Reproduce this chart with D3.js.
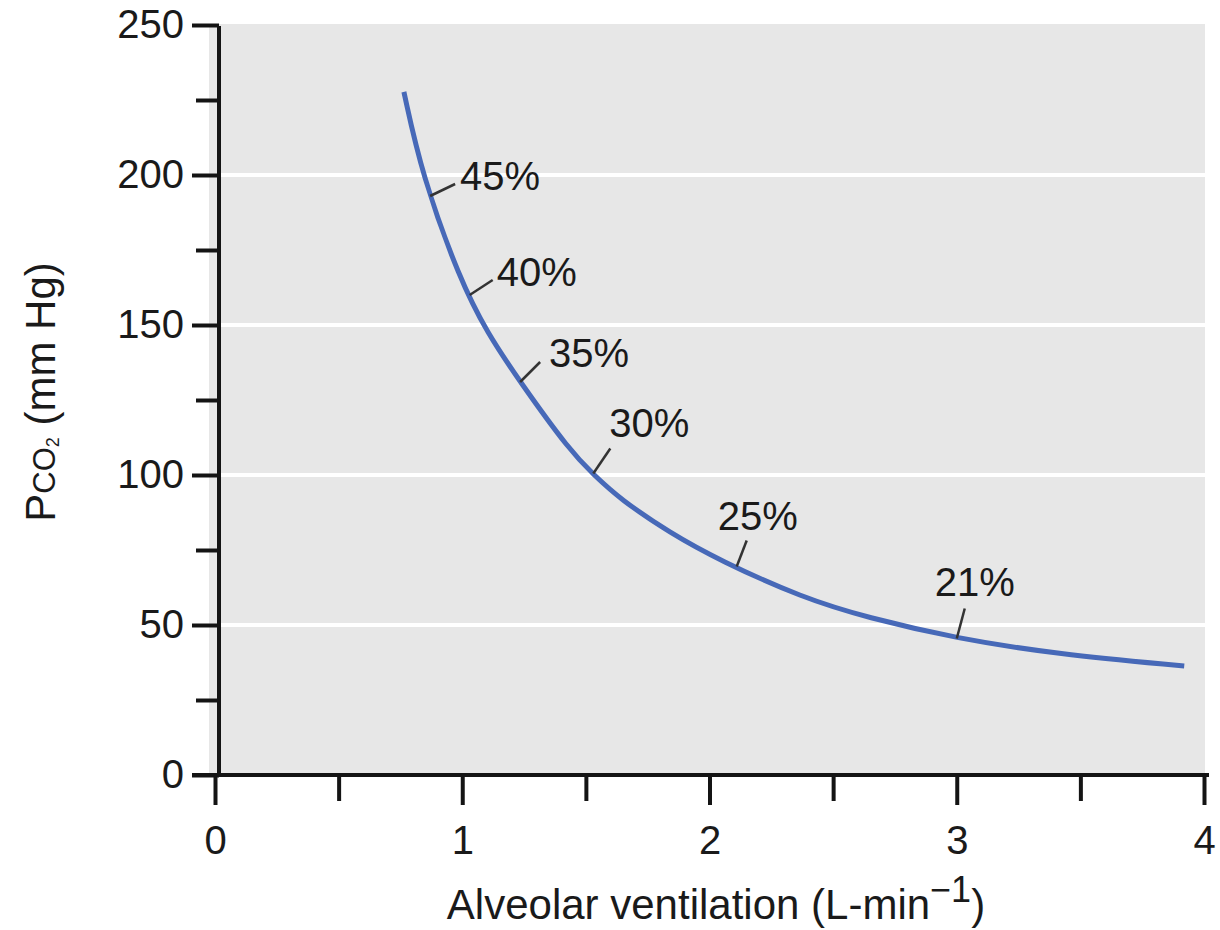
<!DOCTYPE html>
<html>
<head>
<meta charset="utf-8">
<script src="https://cdn.jsdelivr.net/npm/d3@7"></script>
<style>
  body { margin: 0; background: #fff; }
  text { font-family: "Liberation Sans", Arial, Helvetica, sans-serif; fill: #1a1a1a; }
</style>
</head>
<body>
<div id="chart"></div>
<script>
// curve
var ventilation = [0.764, 0.837, 0.991, 1.10, 1.234, 1.436, 1.533, 1.638, 1.84, 2.042, 2.378, 2.637, 3.0, 3.405, 3.92];
var pco2 = [227.7, 200, 165, 147.5, 131, 108, 100, 92, 80.7, 71.5, 59, 52.5, 45.5, 40.3, 36.3];

// O2 labels and where they touch the curve
var labelText = ["45%", "40%", "35%", "30%", "25%", "21%"];
var labelVent = [0.87, 1.03, 1.234, 1.53, 2.11, 3.0];
var labelPco2 = [193, 160, 131, 100.5, 69.5, 45.5];

var xTicks = [0, 1, 2, 3, 4];
var xMinor = [0.5, 1.5, 2.5, 3.5];
var yTicks = [0, 50, 100, 150, 200, 250];
var yMinor = [25, 75, 125, 175, 225];
var gridValues = [50, 100, 150, 200];

// leader + text placement (pixels, relative to curve point)
var labelLayout = [
    { lx: 25, ly: -12, tx: 30, ty: -6 },
    { lx: 23, ly: -15, tx: 27, ty: -9 },
    { lx: 20, ly: -20, tx: 29, ty: -15 },
    { lx: 17, ly: -25, tx: 16, ty: -37 },
    { lx: 10, ly: -26, tx: -19, ty: -37 },
    { lx: 8, ly: -30, tx: -22, ty: -43 }
];

var width = 1220, height = 930;

var x = d3.scaleLinear().domain([0, 4]).range([215, 1204]);
var y = d3.scaleLinear().domain([0, 250]).range([775, 25]);
var axisX = x(0) + 4; // y axis line sits a little right of x=0

var svg = d3.select("#chart").append("svg")
    .attr("width", width)
    .attr("height", height);

// grey plot panel
svg.append("rect")
    .attr("x", axisX - 10)
    .attr("y", y(250) - 1)
    .attr("width", x(4) + 1 - (axisX - 10))
    .attr("height", y(0) - y(250) + 1)
    .style("fill", "#e7e7e7");

// white gridlines
svg.selectAll(".grid")
    .data(gridValues)
    .enter().append("line")
    .attr("class", "grid")
    .attr("x1", axisX)
    .attr("x2", x(4) + 1)
    .attr("y1", function (d) { return y(d); })
    .attr("y2", function (d) { return y(d); })
    .style("stroke", "#fff")
    .style("stroke-width", 4);

// the curve
var valueline = d3.line()
    .x(function (d, i) { return x(ventilation[i]); })
    .y(function (d) { return y(d); })
    .curve(d3.curveBasis);

svg.append("path")
    .datum(pco2)
    .attr("d", valueline)
    .style("fill", "none")
    .style("stroke", "#4769b8")
    .style("stroke-width", 5)
    .style("stroke-linecap", "butt");

// labels with leader lines
labelText.forEach(function (t, i) {
    var px = x(labelVent[i]), py = y(labelPco2[i]), o = labelLayout[i];
    svg.append("line")
        .attr("x1", px).attr("y1", py)
        .attr("x2", px + o.lx).attr("y2", py + o.ly)
        .style("stroke", "#333")
        .style("stroke-width", 2.5);
    svg.append("text")
        .attr("x", px + o.tx)
        .attr("y", py + o.ty)
        .style("font-size", "40px")
        .text(t);
});

function styleAxis(g) {
    g.selectAll("path, line").style("stroke", "#141414").style("stroke-width", 4);
    g.selectAll("text").style("font-size", "40px").style("fill", "#1a1a1a")
        .style("font-family", '"Liberation Sans", Arial, sans-serif');
}

// Y axis (major + minor)
var yAxis = svg.append("g")
    .attr("transform", "translate(" + axisX + ",0)")
    .call(d3.axisLeft(y).tickValues(yTicks).tickSize(27).tickSizeOuter(0).tickPadding(8));
yAxis.select(".domain").remove();
styleAxis(yAxis);

var yMinorAxis = svg.append("g")
    .attr("transform", "translate(" + axisX + ",0)")
    .call(d3.axisLeft(y).tickValues(yMinor).tickSize(23).tickFormat(""));
yMinorAxis.select(".domain").remove();
styleAxis(yMinorAxis);

// X axis (major + minor)
var xAxis = svg.append("g")
    .attr("transform", "translate(0," + y(0) + ")")
    .call(d3.axisBottom(x).tickValues(xTicks).tickFormat(d3.format("d"))
        .tickSize(30).tickPadding(21));
xAxis.select(".domain").remove();
styleAxis(xAxis);

var xMinorAxis = svg.append("g")
    .attr("transform", "translate(0," + y(0) + ")")
    .call(d3.axisBottom(x).tickValues(xMinor).tickSize(26).tickFormat(""));
xMinorAxis.select(".domain").remove();
styleAxis(xMinorAxis);

// axis lines
svg.append("line")
    .attr("x1", axisX).attr("x2", axisX)
    .attr("y1", y(250) + 1).attr("y2", y(0) + 2)
    .style("stroke", "#141414").style("stroke-width", 4);
svg.append("line")
    .attr("x1", axisX - 27).attr("x2", x(4) + 5)
    .attr("y1", y(0)).attr("y2", y(0))
    .style("stroke", "#141414").style("stroke-width", 4);

// axis titles
var xTitle = svg.append("text")
    .attr("x", 716)
    .attr("y", 919)
    .attr("text-anchor", "middle")
    .style("font-size", "42px");
xTitle.append("tspan").text("Alveolar ventilation (L-min");
xTitle.append("tspan").attr("dy", -17).style("font-size", "36px").text("\u22121");
xTitle.append("tspan").attr("dy", 17).text(")");

var yTitle = svg.append("text")
    .attr("transform", "translate(55,392) rotate(-90)")
    .attr("text-anchor", "middle")
    .style("font-size", "42px");
yTitle.append("tspan").text("P");
yTitle.append("tspan").style("font-size", "31px").text("CO");
yTitle.append("tspan").attr("dy", 4).style("font-size", "18px").text("2");
yTitle.append("tspan").attr("dy", -4).text(" (mm Hg)");
</script>
</body>
</html>
